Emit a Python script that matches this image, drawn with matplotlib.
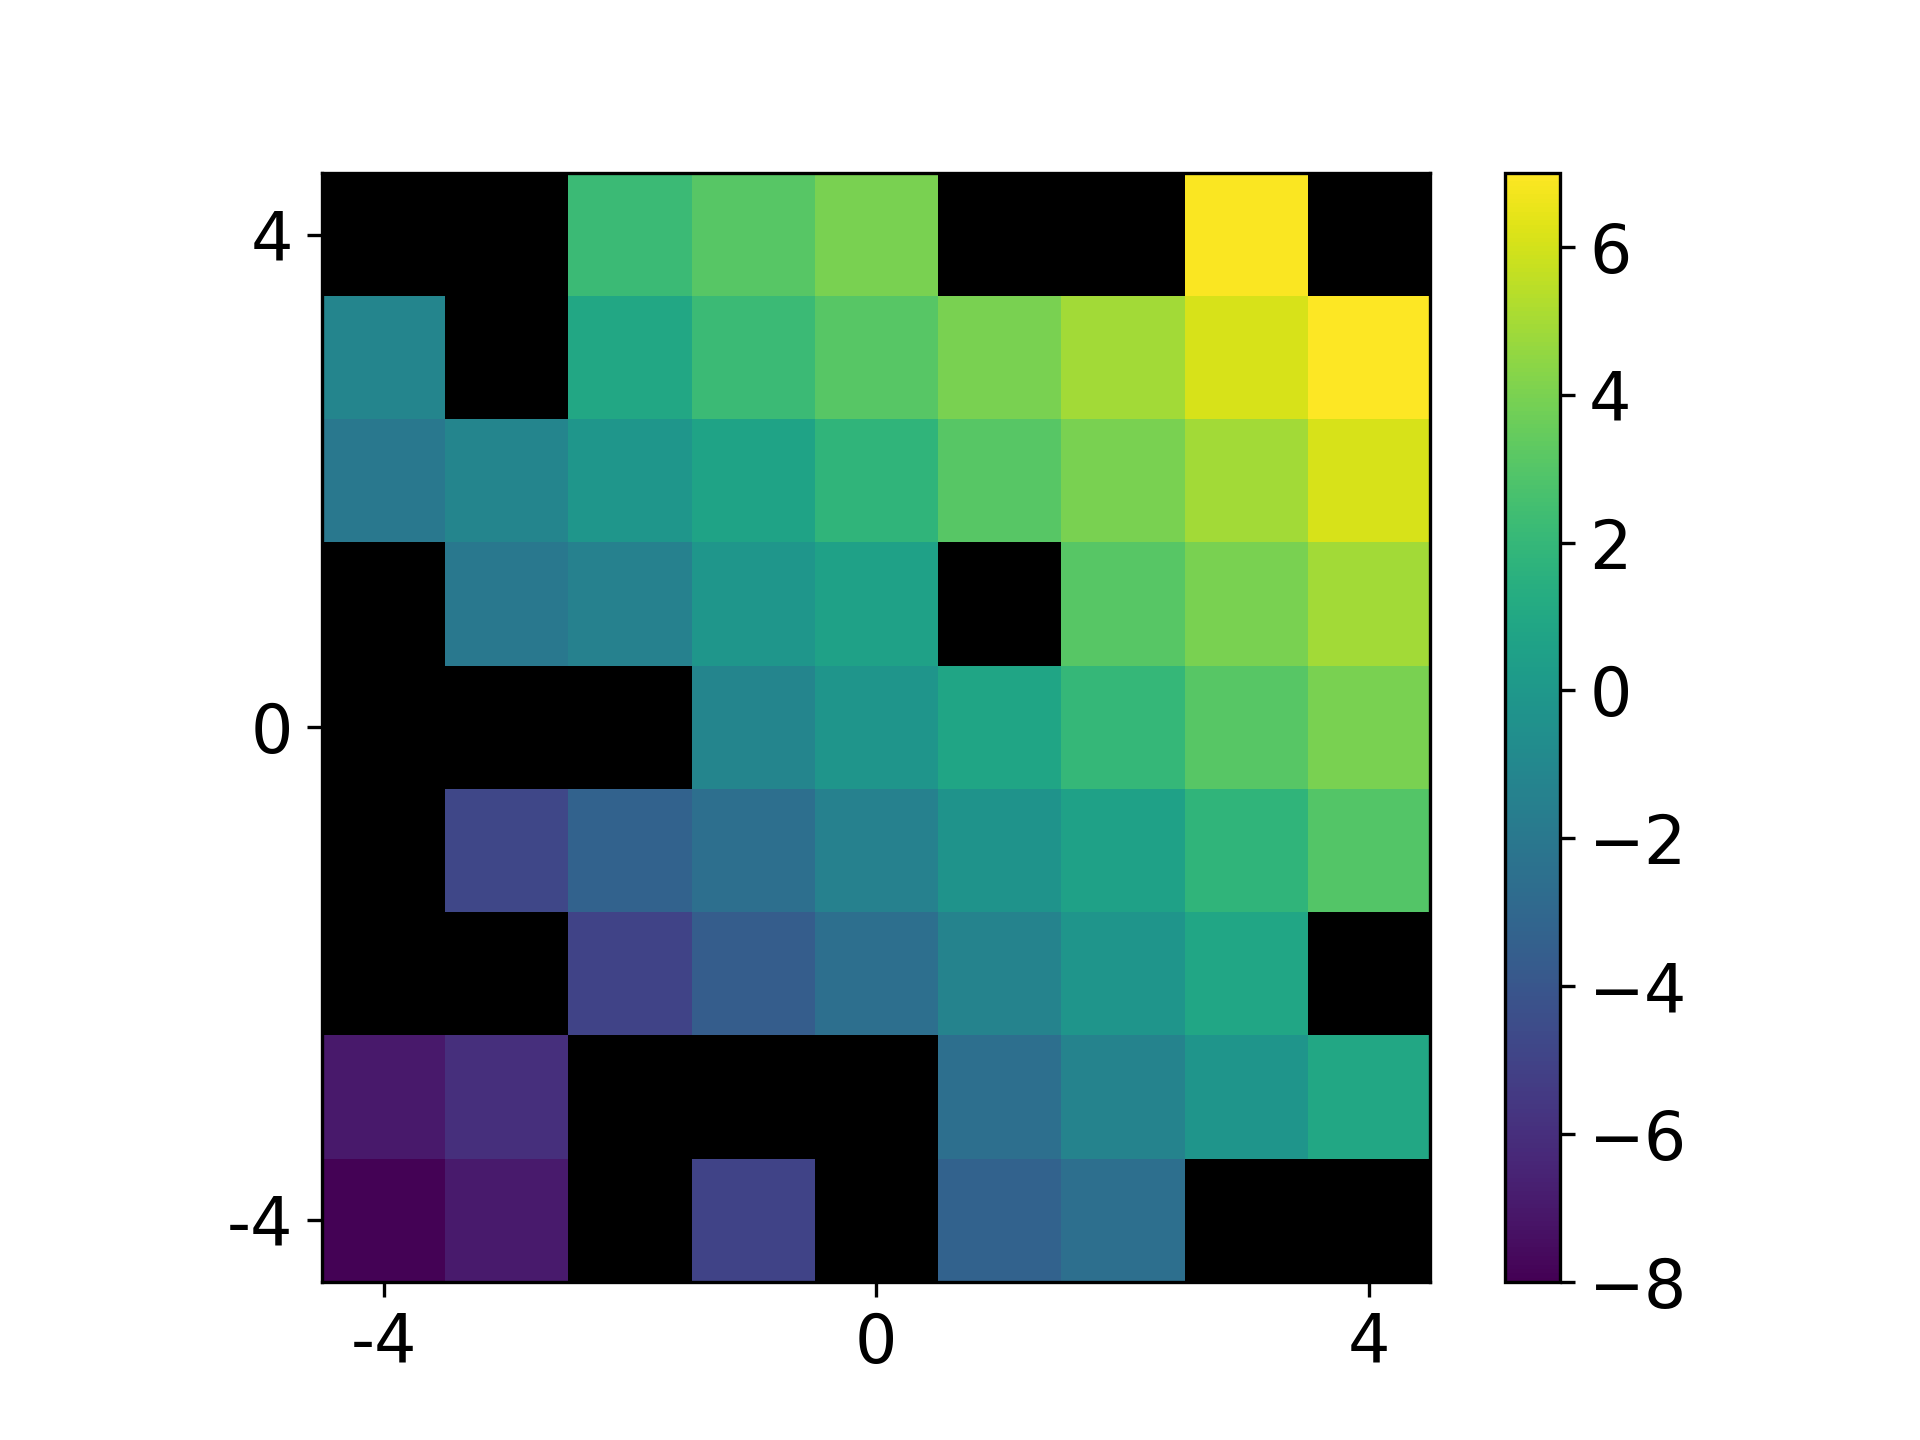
import matplotlib
matplotlib.use("Agg")
import matplotlib.pyplot as plt
import numpy as np

nan = np.nan
# grid values, rows from y=4 (top) down to y=-4, columns x=-4..4; nan = masked (black)
row_y4 = [nan, nan, 2.2, 3.1, 4.0, nan, nan, 6.9, nan]
row_y3 = [-1.2, nan, 1.0, 2.2, 3.1, 4.0, 4.9, 6.1, 7.0]
row_y2 = [-2.0, -1.2, -0.1, 0.7, 1.8, 3.1, 4.0, 4.9, 6.1]
row_y1 = [nan, -2.0, -1.4, -0.1, 0.6, nan, 3.1, 4.0, 4.9]
row_y0 = [nan, nan, nan, -1.2, -0.2, 0.8, 2.0, 3.1, 4.0]
row_ym1 = [nan, -4.8, -3.3, -2.5, -1.4, -0.3, 0.6, 1.8, 3.0]
row_ym2 = [nan, nan, -5.0, -3.6, -2.5, -1.3, -0.2, 0.9, nan]
row_ym3 = [-7.0, -6.0, nan, nan, nan, -2.5, -1.3, -0.2, 1.0]
row_ym4 = [-7.9, -6.9, nan, -5.0, nan, -3.3, -2.5, nan, nan]

grid = np.ma.masked_invalid(np.array([row_y4, row_y3, row_y2, row_y1, row_y0,
                                      row_ym1, row_ym2, row_ym3, row_ym4]))

ticks = [-4, 0, 4]
tick_labels = ["-4", "0", "4"]

cmap = plt.get_cmap("viridis").copy()
cmap.set_bad("black")

plt.rcParams["font.size"] = 16

fig = plt.figure(figsize=(6.4, 4.8), dpi=300)
ax = fig.add_axes([0.1677, 0.1097, 0.5772, 0.7703])
cax = fig.add_axes([0.7838, 0.1097, 0.0287, 0.7703])

im = ax.imshow(grid, cmap=cmap, vmin=-8, vmax=7, origin="upper",
               extent=(-4.5, 4.5, -4.5, 4.5), interpolation="nearest")
ax.set_xticks(ticks)
ax.set_xticklabels(tick_labels)
ax.set_yticks(ticks)
ax.set_yticklabels(tick_labels)

fig.colorbar(im, cax=cax)

fig.savefig("out.png", dpi=300)
